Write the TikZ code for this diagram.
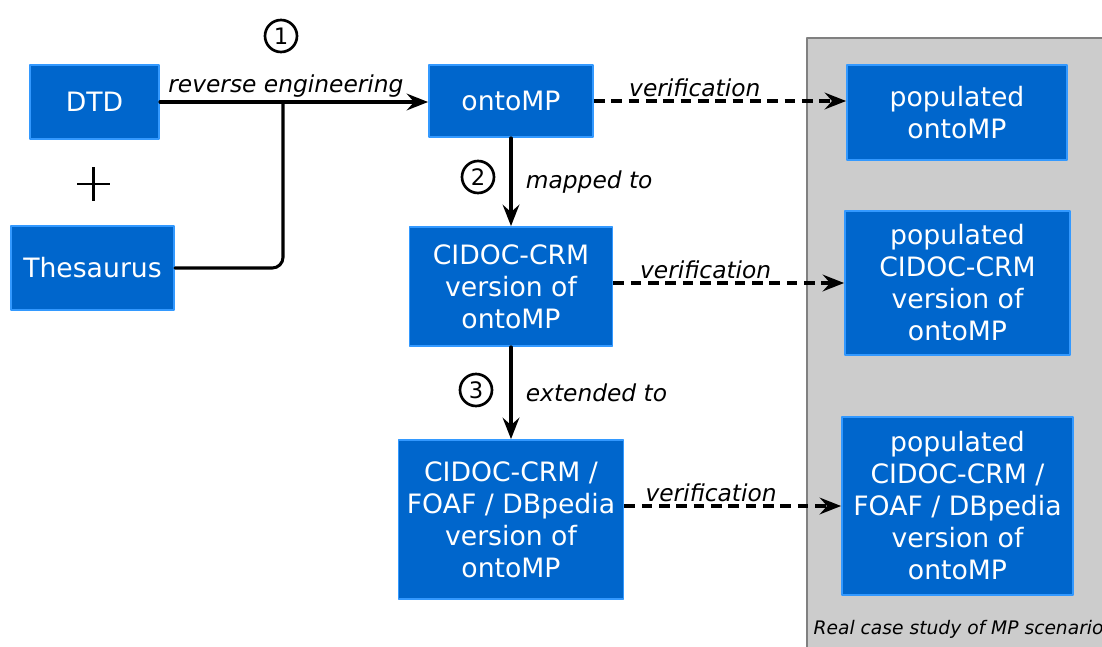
\documentclass[tikz,border=0pt]{standalone}
\usepackage{fontspec}
\setmainfont{DejaVu Sans}
\usetikzlibrary{arrows.meta}
\definecolor{boxblue}{HTML}{0066CC}
\definecolor{boxedge}{HTML}{3399FF}
\definecolor{panelgray}{HTML}{CCCCCC}
\definecolor{paneledge}{HTML}{808080}

\begin{document}
\begin{tikzpicture}[line cap=round,line join=round,>={Stealth[length=16pt,width=12.5pt,inset=5.5pt]},x=0.75pt,y=-0.75pt,
    box/.style={rectangle,draw=boxedge,fill=boxblue,line width=1.4pt,text=white,align=center,inner sep=0pt,font=\fontsize{20}{24}\selectfont},
    flow/.style={black,line width=2.3pt},
    verif/.style={black,line width=2.3pt,line cap=butt,dash pattern=on 8pt off 5pt},
    lbl/.style={font=\fontsize{17.5}{20}\selectfont\itshape,inner sep=2pt},
    num/.style={circle,draw,line width=2pt,inner sep=0pt,minimum size=24pt,font=\fontsize{17}{17}\selectfont}]
    \useasboundingbox (0,0) rectangle (1102,646);
    \clip (0,0) rectangle (1102,646);

    % Panel of the case study
    \draw[fill=panelgray,draw=paneledge,line width=2.2pt] (807,38) rectangle (1120,670);
    \node[anchor=base west,font=\fontsize{14}{14}\selectfont\itshape] (cap) at (809,634) {Real case study of MP scenario};

    % Boxes
    \draw(94.5,102) node[box,minimum width=96.75pt,minimum height=55.5pt] (DTD) {DTD};
    \draw(92.5,268) node[box,minimum width=122.25pt,minimum height=63pt] (Thes) {Thesaurus};
    \draw(511,101) node[box,minimum width=123pt,minimum height=54pt] (Onto) {ontoMP};
    \draw(511,286.5) node[box,minimum width=152.25pt,minimum height=89.25pt] (Crm) {CIDOC-CRM\\version of\\ontoMP};
    \draw(511,519.5) node[box,minimum width=168.75pt,minimum height=119.25pt] (Foaf) {CIDOC-CRM /\\FOAF / DBpedia\\version of\\ontoMP};
    \draw(957,112.5) node[box,minimum width=165pt,minimum height=71.25pt] (PopOnto) {populated\\ontoMP};
    \draw(957.5,283) node[box,minimum width=168.75pt,minimum height=108pt] (PopCrm) {populated\\CIDOC-CRM\\version of\\ontoMP};
    \draw(957.5,506) node[box,minimum width=173.25pt,minimum height=133.5pt] (PopFoaf) {populated\\CIDOC-CRM /\\FOAF / DBpedia\\version of\\ontoMP};

    % Plus sign
    \draw[line width=1.9pt,line cap=butt] (77,184) -- (110,184) (93.5,167) -- (93.5,201);

    % Step numbers
    \node[num] (n1) at (281,36) {1};
    \node[num] (n2) at (478,177) {2};
    \node[num] (n3) at (476,390) {3};

    % Edges
    \coordinate (J) at (283,102);
    \draw[flow,->] (DTD.east) -- (DTD.east -| Onto.west) node[lbl,above,pos=.47] {reverse engineering};
    \draw[flow,rounded corners=8pt] (Thes.east) -| (J);
    \foreach \source/\target/\txt in {Onto/Crm/mapped to, Crm/Foaf/extended to} {
            \draw[flow,->] (\source) -- (\target) node[lbl,right=8pt,midway] {\txt};
        }

    % Verification
    \draw[verif,->] (Onto.east) -- (Onto.east -| PopOnto.west) node[lbl,above,pos=.4] {verification};
    \draw[verif,->] (Crm.east |- PopCrm.west) -- (PopCrm.west) node[lbl,above,pos=.4] {verification};
    \draw[verif,->] (Foaf.east |- PopFoaf.west) -- (PopFoaf.west) node[lbl,above,pos=.4] {verification};
\end{tikzpicture}
\end{document}
